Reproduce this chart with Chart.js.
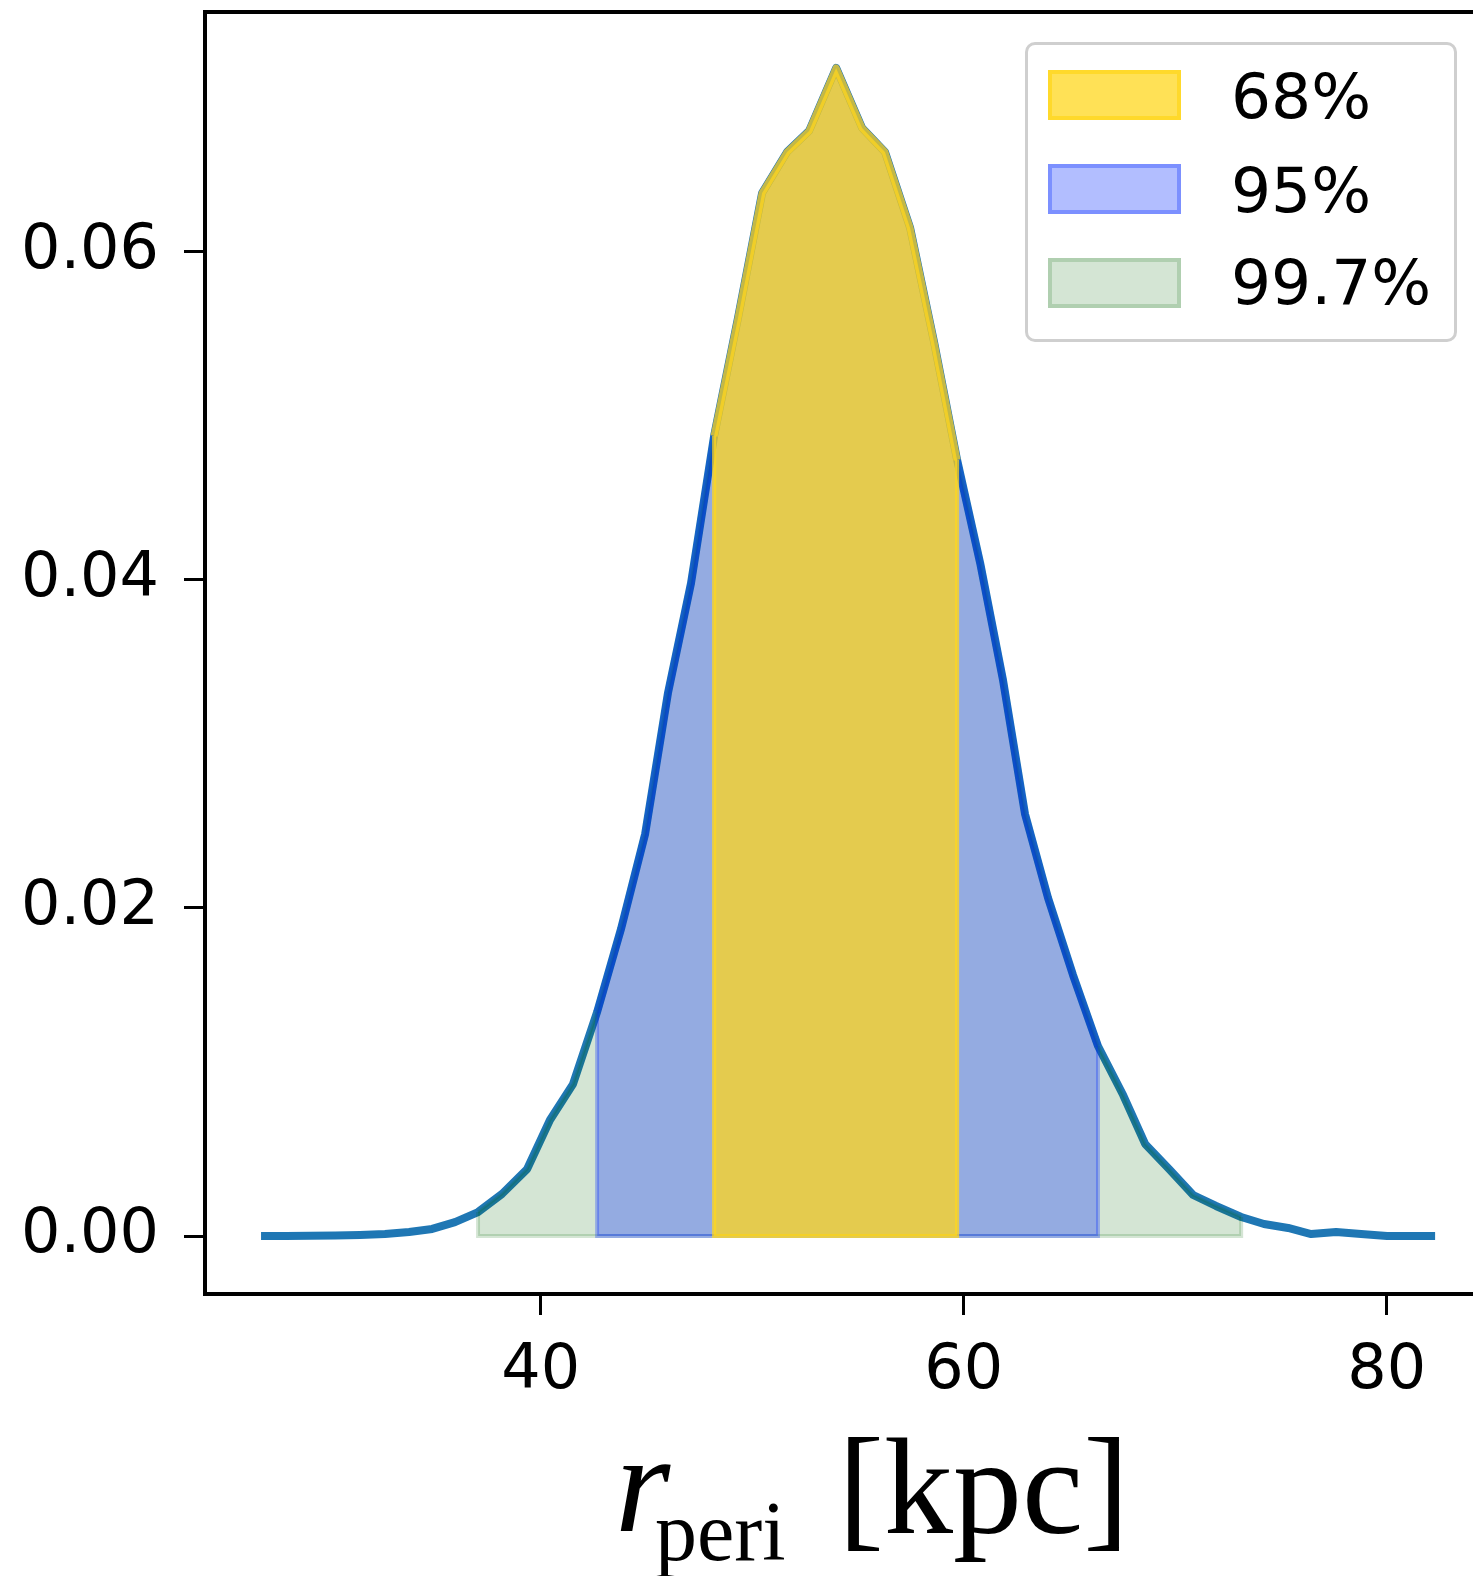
<!DOCTYPE html>
<html><head><meta charset="utf-8">
<script src="https://cdn.jsdelivr.net/npm/chart.js@4.4.1/dist/chart.umd.min.js"></script>
<style>
html,body{margin:0;padding:0;background:#fff;overflow:hidden;width:1473px;height:1576px}
#wrap{position:relative;width:1500px;height:1576px}
canvas{position:absolute;left:0;top:0}
.xt{position:absolute;font-family:"Liberation Serif","Times New Roman",serif;color:#000;line-height:1;white-space:nowrap}
#legendBox{position:absolute;left:1025px;top:42px;width:432px;height:300px;box-sizing:border-box;border:3px solid #cfcfcf;border-radius:10px;background:rgba(255,255,255,0.8)}
.sw{position:absolute;left:1048px;width:133px;height:50px;box-sizing:border-box;border-width:4px;border-style:solid}
.lt{position:absolute;left:1231px;font-family:"DejaVu Sans",sans-serif;font-size:63px;line-height:1;color:#000;white-space:nowrap}
</style></head>
<body><div id="wrap">
<canvas id="c" width="1500" height="1576" style="width:1500px;height:1576px"></canvas>
<div class="xt" style="left:615px;top:1412px;font-size:142px;font-style:italic">r</div>
<div class="xt" style="left:655px;top:1490px;font-size:84px">peri</div>
<div class="xt" style="left:838px;top:1418px;font-size:138px">[kpc]</div>
<div id="legendBox"></div>
</div>
<script>
// ---- data ----
const rPeri = [26.78, 27.96, 29.10, 30.28, 31.46, 32.64, 33.78, 34.87, 35.95, 37.04,
  38.17, 39.36, 40.44, 41.53, 42.67, 43.80, 44.94, 46.02, 47.11, 48.20,
  49.33, 50.47, 51.65, 52.69, 53.97, 55.20, 56.28, 57.47, 58.60, 59.69,
  60.78, 61.86, 62.90, 63.99, 65.17, 66.35, 67.54, 68.58, 69.71, 70.85,
  71.93, 73.12, 74.20, 75.34, 76.43, 77.61, 78.79, 80.02, 81.15, 82.29];
const density = [0, 0, 0.00001, 0.00003, 0.00006, 0.00012, 0.00024, 0.00043, 0.00085, 0.00146,
  0.00256, 0.00408, 0.00707, 0.00926, 0.01365, 0.01871, 0.02450, 0.03309, 0.03979, 0.04875,
  0.05594, 0.06356, 0.06606, 0.06734, 0.07118, 0.06752, 0.06606, 0.06143, 0.05448, 0.04729,
  0.04101, 0.03388, 0.02572, 0.02060, 0.01590, 0.01158, 0.00859, 0.00561, 0.00408, 0.00250,
  0.00183, 0.00116, 0.00073, 0.00049, 0.00012, 0.00024, 0.00012, 0, 0, 0];
const levelLabels = ['68%', '95%', '99.7%'];
const levelLo = [48.20, 42.67, 37.04];
const levelHi = [59.69, 66.35, 73.12];
const xTicks = [40, 60, 80];
const yTicks = [0.00, 0.02, 0.04, 0.06];

// ---- styling ----
const fillColors = ['rgba(255,215,30,0.75)', 'rgba(0,40,255,0.3)', 'rgba(0,100,0,0.17)'];
const curveEdgeWidths = [7, 7, 3];
const lineColor = '#1f77b4';
const xMin = 24.13, xMax = 84.98, yMin = -0.003534, yMax = 0.07459;

const datasets = [];
levelLabels.forEach((lab, i) => {
  const lo = levelLo[i], hi = levelHi[i];
  const pts = [];
  rPeri.forEach((x, k) => { if (x >= lo - 1e-9 && x <= hi + 1e-9) pts.push({x: x, y: density[k]}); });
  // filled area, edge along the curve
  datasets.push({label: lab, data: pts, borderColor: fillColors[i], backgroundColor: fillColors[i],
    borderWidth: curveEdgeWidths[i], fill: 'origin', pointRadius: 0, tension: 0, order: i * 2, borderJoinStyle: 'round'});
  // side and bottom edges of the band
  const first = pts[0], last = pts[pts.length - 1];
  datasets.push({label: lab + ' edge', data: [{x: lo, y: first.y}, {x: lo, y: 0}, {x: hi, y: 0}, {x: hi, y: last.y}],
    borderColor: fillColors[i], borderWidth: 4, fill: false, pointRadius: 0, tension: 0, order: i * 2 + 1, borderJoinStyle: 'miter'});
});
datasets.push({label: 'pdf', data: rPeri.map((x, k) => ({x: x, y: density[k]})), borderColor: lineColor,
  borderWidth: 8, pointRadius: 0, fill: false, tension: 0, order: 10, borderJoinStyle: 'round', borderCapStyle: 'butt'});

const tickFont = {family: 'DejaVu Sans', size: 62};
const zeroPad = s => { s.paddingTop = 0; s.paddingBottom = 0; s.paddingLeft = 0; s.paddingRight = 0; };
new Chart(document.getElementById('c'), {
  type: 'line',
  data: {datasets: datasets},
  options: {
    responsive: false, animation: false, devicePixelRatio: 1,
    layout: {padding: {left: 0, right: 8, top: 0, bottom: 0}},
    plugins: {legend: {display: false}, tooltip: {enabled: false}},
    scales: {
      x: {type: 'linear', position: 'bottom', min: xMin, max: xMax,
        afterFit: s => { s.height = 282; zeroPad(s); },
        afterBuildTicks: s => { s.ticks = xTicks.map(v => ({value: v})); },
        ticks: {font: tickFont, color: '#000', padding: 20, maxRotation: 0, autoSkip: false, callback: v => String(v)},
        grid: {display: true, drawOnChartArea: false, drawTicks: true, tickLength: 21, tickWidth: 3, tickColor: '#000'},
        border: {display: true, color: '#000', width: 4}},
      x2: {type: 'linear', position: 'top', min: xMin, max: xMax,
        afterFit: s => { s.height = 12; zeroPad(s); },
        ticks: {display: false}, grid: {display: false},
        border: {display: true, color: '#000', width: 4}},
      y: {type: 'linear', position: 'left', min: yMin, max: yMax,
        afterFit: s => { s.width = 205; zeroPad(s); },
        afterBuildTicks: s => { s.ticks = yTicks.map(v => ({value: v})); },
        ticks: {font: tickFont, color: '#000', padding: 25, autoSkip: false, callback: v => Number(v).toFixed(2)},
        grid: {display: true, drawOnChartArea: false, drawTicks: true, tickLength: 21, tickWidth: 3, tickColor: '#000'},
        border: {display: true, color: '#000', width: 4}}
    }
  }
});

// legend built from the level arrays
const wrap = document.getElementById('wrap');
const swTops = [70, 164, 258];
const txtCenters = [95.5, 189, 281.5];
levelLabels.forEach((lab, i) => {
  const sw = document.createElement('div');
  sw.className = 'sw';
  sw.style.top = swTops[i] + 'px';
  sw.style.background = fillColors[i];
  sw.style.borderColor = fillColors[i];
  wrap.appendChild(sw);
  const t = document.createElement('div');
  t.className = 'lt';
  t.style.top = (txtCenters[i] - 0.4815 * 63) + 'px';
  t.textContent = lab;
  wrap.appendChild(t);
});
</script>
</body></html>
